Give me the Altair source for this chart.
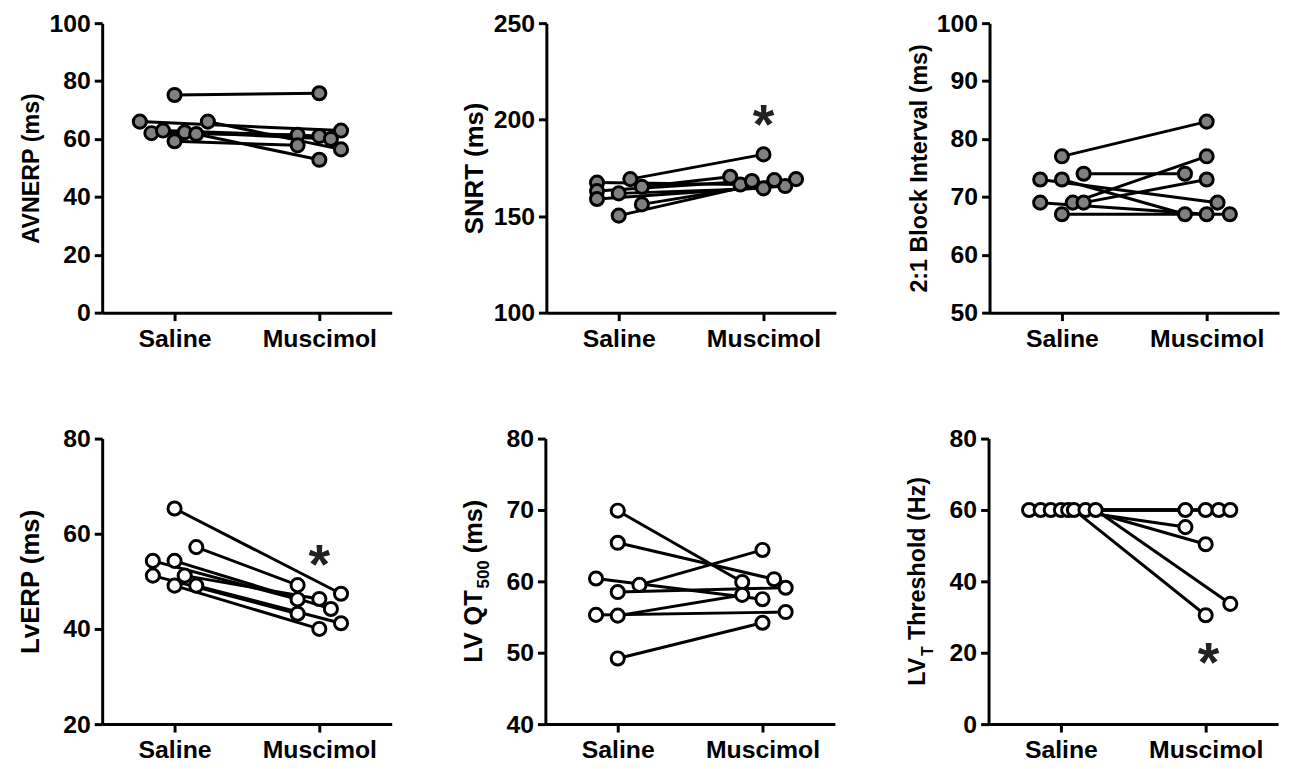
import altair as alt
import pandas as pd

CATS = ["Saline", "Muscimol"]
FONT = "Liberation Sans"

# ---------------- data ----------------
# AVNERP (ms)
avnerp_sal = [66.0, 62.0, 62.9, 59.2, 75.2, 62.3, 61.7, 66.0]
avnerp_mus = [62.9, 61.4, 61.0, 57.8, 75.8, 60.0, 52.8, 56.4]
avnerp_sal_jit = [-0.24, -0.16, -0.08, 0.0, 0.0, 0.07, 0.15, 0.23]
avnerp_mus_jit = [0.15, -0.15, 0.0, -0.15, 0.0, 0.08, 0.0, 0.15]

# SNRT (ms)
snrt_sal = [167.4, 163.0, 158.9, 161.8, 150.3, 169.2, 165.2, 156.1]
snrt_mus = [166.4, 168.2, 165.6, 164.4, 168.7, 182.0, 170.4, 169.2]
snrt_sal_jit = [-0.15, -0.15, -0.15, 0.0, 0.0, 0.08, 0.16, 0.16]
snrt_mus_jit = [-0.16, -0.08, 0.15, 0.0, 0.075, 0.0, -0.23, 0.225]

# 2:1 Block Interval (ms)
block_sal = [77, 73, 73, 74, 69, 69, 69, 67]
block_mus = [83, 69, 67, 74, 67, 77, 73, 67]
block_sal_jit = [0.0, -0.15, 0.0, 0.15, -0.15, 0.075, 0.15, 0.0]
block_mus_jit = [0.0, 0.075, -0.15, -0.15, 0.0, 0.0, 0.0, 0.16]

# LvERP (ms)
lverp_sal = [65.3, 57.2, 54.3, 54.3, 51.2, 51.2, 49.1, 49.1]
lverp_mus = [47.4, 49.2, 46.2, 44.2, 43.2, 46.3, 40.0, 41.2]
lverp_sal_jit = [0.0, 0.15, -0.15, 0.0, -0.15, 0.07, 0.0, 0.15]
lverp_mus_jit = [0.15, -0.15, -0.15, 0.08, -0.15, 0.0, 0.0, 0.15]

# LV QT500 (ms)
qt_sal = [69.9, 65.4, 60.4, 59.5, 58.5, 55.3, 55.2, 49.2]
qt_mus = [59.9, 60.3, 57.5, 64.4, 59.1, 55.7, 58.1, 54.2]
qt_sal_jit = [0.0, 0.0, -0.15, 0.15, 0.0, -0.15, 0.0, 0.0]
qt_mus_jit = [-0.14, 0.08, 0.0, 0.0, 0.16, 0.16, -0.14, 0.0]

# LVT Threshold (Hz)
lvt_sal = [60, 60, 60, 60, 60, 60, 60, 60]
lvt_mus = [60, 60, 60, 60, 55.2, 30.5, 50.4, 33.7]
lvt_sal_jit = [-0.22, -0.14, -0.07, 0.0, 0.05, 0.09, 0.17, 0.24]
lvt_mus_jit = [-0.14, 0.0, 0.09, 0.17, -0.14, 0.0, 0.0, 0.17]

# significance markers (x category index, y value)
snrt_star = [(2, 203.3)]
lverp_star = [(2, 55.8)]
lvt_star = [(2.02, 20.3)]

W = 292
LABEL_EXPR = f"datum.value == 1 ? '{CATS[0]}' : '{CATS[1]}'"


def panel(sal, mus, sj, mj, domain, ticks, title, fill, height,
          star=None, title_parts=None, title_size=22):
    rows = []
    for i in range(len(sal)):
        rows.append({"subj": i, "x": 1 + sj[i], "y": sal[i]})
        rows.append({"subj": i, "x": 2 + mj[i], "y": mus[i]})
    df = pd.DataFrame(rows)
    X = alt.X("x:Q", scale=alt.Scale(domain=[0.5, 2.5], nice=False, zero=False),
              axis=alt.Axis(values=[1, 2], labelExpr=LABEL_EXPR, title=None,
                            grid=False))
    if title:
        yaxis = alt.Axis(values=ticks, grid=False, title=title,
                         titleFontSize=title_size)
    else:
        yaxis = alt.Axis(values=ticks, grid=False, title=None)
    Y = alt.Y("y:Q", scale=alt.Scale(domain=domain, nice=False, zero=False),
              axis=yaxis)
    base = alt.Chart(df)
    lines = base.mark_line(color="black", strokeWidth=3).encode(
        x=X, y=Y, detail="subj:N")
    pts = base.mark_circle(fill=fill, stroke="black", strokeWidth=3,
                           size=175, opacity=1).encode(x=X, y=Y)
    layers = [lines, pts]
    if star:
        sdf = pd.DataFrame({"x": [s[0] for s in star], "y": [s[1] for s in star],
                            "t": ["*"] * len(star)})
        layers.append(alt.Chart(sdf).mark_text(
            fontSize=56, font=FONT, fontWeight="bold", color="#222222",
            baseline="middle", dy=13).encode(x=X, y=Y, text="t:N"))
    if title_parts:
        for txt, size, dx, dy in title_parts:
            layers.append(alt.Chart(pd.DataFrame({"t": [txt]})).mark_text(
                angle=270, align="left", baseline="bottom", font=FONT,
                fontWeight="bold", fontSize=size, color="black",
                dx=dx, dy=dy).encode(
                x=alt.value(-59), y=alt.value(height / 2), text="t:N"))
    return alt.layer(*layers).properties(width=W, height=height)


H1, H2 = 292, 288
p1 = panel(avnerp_sal, avnerp_mus, avnerp_sal_jit, avnerp_mus_jit,
           [0, 100], [0, 20, 40, 60, 80, 100], "AVNERP (ms)", "#808080", H1,
           title_size=23.5)
p2 = panel(snrt_sal, snrt_mus, snrt_sal_jit, snrt_mus_jit,
           [100, 250], [100, 150, 200, 250], "SNRT (ms)", "#808080", H1,
           star=snrt_star, title_size=26)
p3 = panel(block_sal, block_mus, block_sal_jit, block_mus_jit,
           [50, 100], [50, 60, 70, 80, 90, 100], "2:1 Block Interval (ms)",
           "#808080", H1, title_size=23.5)
p4 = panel(lverp_sal, lverp_mus, lverp_sal_jit, lverp_mus_jit,
           [20, 80], [20, 40, 60, 80], "LvERP (ms)", "white", H2,
           star=lverp_star, title_size=26)
p5 = panel(qt_sal, qt_mus, qt_sal_jit, qt_mus_jit,
           [40, 80], [40, 50, 60, 70, 80], None, "white", H2,
           title_parts=[("LV QT", 25.5, -82.2, 0), ("500", 17, -7.1, 6),
                        ("(ms)", 25.5, 28.4, 0)])
p6 = panel(lvt_sal, lvt_mus, lvt_sal_jit, lvt_mus_jit,
           [0, 80], [0, 20, 40, 60, 80], None, "white", H2,
           star=lvt_star,
           title_parts=[("LV", 23.5, -105.4, 0), ("T", 16, -75.4, 5.5),
                        ("Threshold (Hz)", 23.5, -59.1, 0)])

row1 = alt.hconcat(p1, p2, p3, spacing=71)
row2 = alt.hconcat(p4, p5, p6, spacing=71)
chart = alt.vconcat(row1, row2, spacing=76).properties(
    padding={"left": 10, "top": 0, "right": 5, "bottom": 5}
).configure_view(stroke=None).configure_axis(
    domainColor="black", domainWidth=3, tickColor="black", tickWidth=3,
    tickSize=8, labelFont=FONT, labelFontWeight="bold", labelFontSize=25,
    labelColor="black", titleFont=FONT, titleFontWeight="bold",
    titleFontSize=22, titleColor="black", labelPadding=4
).configure_axisY(
    minExtent=53, maxExtent=53, titlePadding=6
).configure_axisX(
    labelPadding=6
)

chart.save("out.html", embed_options={"renderer": "svg", "actions": False})
